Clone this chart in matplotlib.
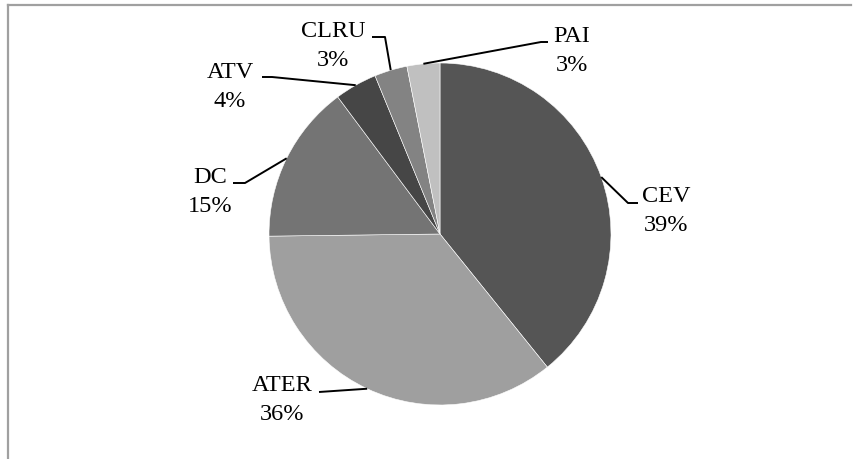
import numpy as np
import matplotlib
matplotlib.use('Agg')
import matplotlib.pyplot as plt
from matplotlib.lines import Line2D

# datos (porcentajes)
etiquetas = ['CEV', 'ATER', 'DC', 'ATV', 'CLRU', 'PAI']
valores = [39.2, 35.6, 15.0, 4.0, 3.1, 3.1]
colores = ['#555555', '#9f9f9f', '#747474', '#464646', '#838383', '#c0c0c0']

W, H = 860, 459
cx, cy, R = 440, 234, 171  # centro y radio del pastel en pixeles

# posicion de textos y codos de las lineas guia (pixeles)
pos_texto = [(666, 211), (282, 400), (210, 192), (230, 87), (333, 46), (572, 51)]
codos = [[(628, 203), (638, 203)],
         [(319, 392)],
         [(245, 183), (233, 183)],
         [(272, 77), (262, 77)],
         [(385, 37), (372, 37)],
         [(541, 42), (548, 42)]]

plt.rcParams['font.family'] = ['Liberation Serif', 'DejaVu Serif']

fig = plt.figure(figsize=(W / 100, H / 100), dpi=100)
ax = fig.add_axes([(cx - R) / W, (H - cy - R) / H, 2 * R / W, 2 * R / H])
ax.axis('off')

wedges, _ = ax.pie(valores, colors=colores, startangle=90, counterclock=False, radius=1,
                   wedgeprops=dict(edgecolor='white', linewidth=0.4))
ax.set_xlim(-1, 1)
ax.set_ylim(-1, 1)


def a_datos(p):
    return ((p[0] - cx) / R, (cy - p[1]) / R)


for w, lab, val, tp, cod in zip(wedges, etiquetas, valores, pos_texto, codos):
    ang = np.deg2rad((w.theta1 + w.theta2) / 2)
    x0, y0 = np.cos(ang), np.sin(ang)
    pts = [(x0, y0)] + [a_datos(c) for c in cod]
    xs = [p[0] for p in pts]
    ys = [p[1] for p in pts]
    ax.plot(xs, ys, color='black', lw=1.4, clip_on=False, solid_capstyle='butt')
    tx, ty = a_datos(tp)
    ax.text(tx, ty, f'{lab}\n{round(val)}%', ha='center', va='center', fontsize=17.5,
            linespacing=1.5, clip_on=False)

# borde del grafico (solo arriba e izquierda visibles)
fig.add_artist(Line2D([8 / W, 851 / W], [1 - 5 / H, 1 - 5 / H], color='#a0a0a0', lw=1.6))
fig.add_artist(Line2D([8 / W, 8 / W], [1 - 5 / H, 0], color='#a0a0a0', lw=1.6))

fig.savefig('out.png', dpi=100)
